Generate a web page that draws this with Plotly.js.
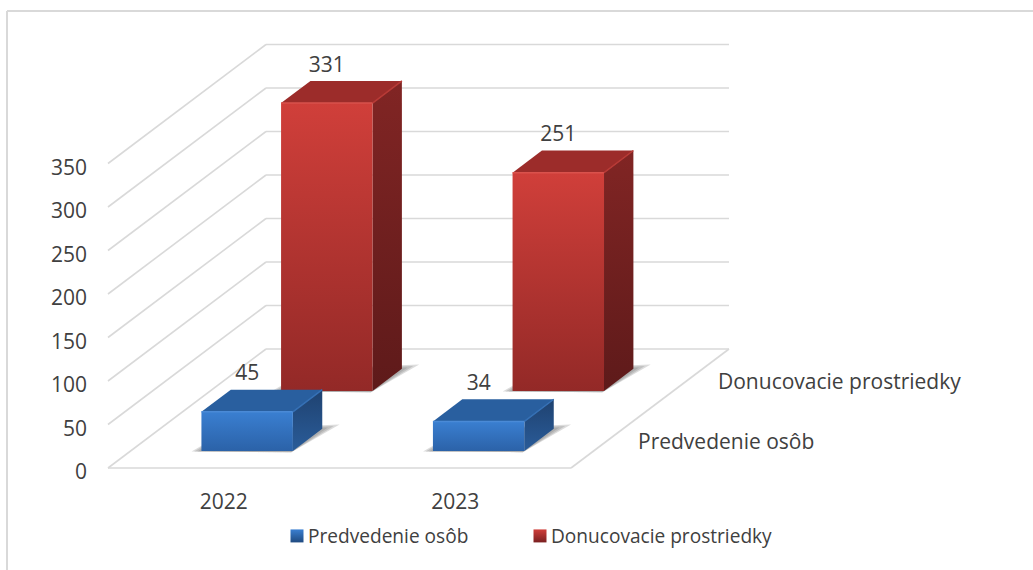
<!DOCTYPE html>
<html><head><meta charset="utf-8">
<script src="https://cdn.plot.ly/plotly-3.0.1.min.js"></script>
<style>html,body{margin:0;padding:0;background:#fff}#c{width:1033px;height:570px}</style>
</head><body><div id="c"></div>
<script>
const categories = ['2022', '2023'];
const seriesNames = ['Predvedenie osôb', 'Donucovacie prostriedky'];
const predvedenie = [45, 34];
const donucovacie = [331, 251];
const valueTicks = [0, 50, 100, 150, 200, 250, 300, 350];

const W = 1033, H = 570, ML = 97, MB = 83;
const FONT = '"Open Sans", sans-serif', TXT = '#404040', GRID = '#d9d9d9', FS = 21;
const pxPerCat = 231.5, pxPerVal = 0.87, originX = 108, originY = 468;
const depthX = 158 / pxPerCat, depthY = 119 / pxPerVal;
const P = (c, d, v) => [c + d * depthX, v + d * depthY];
const poly = pts => { const q = pts.map(p => P(p[0], p[1], p[2])); return {x: q.map(a => a[0]).concat(q[0][0]), y: q.map(a => a[1]).concat(q[0][1])}; };

const traces = [];
const face = (pts, grad, flat) => {
  const g = poly(pts);
  const t = {type: 'scatter', mode: 'lines', x: g.x, y: g.y, fill: 'toself', line: {width: 0}, hoverinfo: 'skip', showlegend: false};
  if (grad) t.fillgradient = grad; else t.fillcolor = flat;
  traces.push(t);
};
const edge = (a, b, color) => {
  const p = P(...a), q = P(...b);
  traces.push({type: 'scatter', mode: 'lines', x: [p[0], q[0]], y: [p[1], q[1]], line: {color, width: 1.5}, hoverinfo: 'skip', showlegend: false});
};
const seg = (a, b) => {
  const p = P(...a), q = P(...b);
  return [[p[0], q[0], null], [p[1], q[1], null]];
};

// wall grid + floor
let gx = [], gy = [];
valueTicks.forEach(v => {
  [[[0, 0, v], [0, 1, v]], [[0, 1, v], [2, 1, v]]].forEach(s => {
    const r = seg(s[0], s[1]); gx = gx.concat(r[0]); gy = gy.concat(r[1]);
  });
});
[[[0, 0, 0], [2, 0, 0]], [[2, 0, 0], [2, 1, 0]]].forEach(s => {
  const r = seg(s[0], s[1]); gx = gx.concat(r[0]); gy = gy.concat(r[1]);
});
traces.push({type: 'scatter', mode: 'lines', x: gx, y: gy, line: {color: GRID, width: 1.6}, hoverinfo: 'skip', showlegend: false, connectgaps: false});

const barStart = 0.306, barWidth = 0.395;
const depthStart = [0.143, 0.647], barDepth = 0.186;
const styles = [
  {front: [[0, '#2b62a8'], [1, '#3a7fd1']], side: [[0, '#2a5c99'], [1, '#1f4270']], top: '#295f9f', glow: '#4a8ad6', glow2: '#3570b5', leg: '#3a7fd1', legB: '#1f4a80'},
  {front: [[0, '#932927'], [1, '#d03f3a']], side: [[0, '#5e1a1a'], [1, '#812524']], top: '#9c2c2a', glow: '#d9524c', glow2: '#b83a36', leg: '#d03f3a', legB: '#7a2020'}
];

function bar(cat, s, val) {
  const c0 = cat + barStart, c1 = c0 + barWidth, d0 = depthStart[s], d1 = d0 + barDepth, st = styles[s];
  // soft shadow on the floor
  [[0.05, 0.06, 0.04], [0.033, 0.04, 0.028], [0.016, 0.02, 0.014]].forEach(o => {
    const g = poly([[c0 - o[2], d0 - 0.004, 0], [c1, d0 - 0.01, 0], [c1 + o[0], d1 + o[1] * 0.6, 0], [c0, d1, 0]]);
    traces.push({type: 'scatter', mode: 'lines', x: g.x, y: g.y, fill: 'toself', fillcolor: 'rgba(110,110,110,0.24)', line: {width: 0}, hoverinfo: 'skip', showlegend: false});
  });
  face([[c1, d0, 0], [c1, d1, 0], [c1, d1, val], [c1, d0, val]], {type: 'vertical', colorscale: st.side});
  face([[c0, d0, val], [c1, d0, val], [c1, d1, val], [c0, d1, val]], null, st.top);
  face([[c0, d0, 0], [c1, d0, 0], [c1, d0, val], [c0, d0, val]], {type: 'vertical', colorscale: st.front});
  edge([c0, d0, val], [c1, d0, val], st.glow);
  edge([c1, d0, val], [c1, d1, val], st.glow2);
}
[1, 0].forEach(s => {
  categories.forEach((_, i) => bar(i, s, (s ? donucovacie : predvedenie)[i]));
});

// value labels
const labelLift = 4 / pxPerVal;
[predvedenie, donucovacie].forEach((vals, s) => {
  const pts = vals.map((v, i) => P(i + barStart + barWidth / 2, depthStart[s] + barDepth, v));
  traces.push({type: 'scatter', mode: 'text',
    x: pts.map(p => p[0] - barDepth * depthX), y: pts.map(p => p[1] + labelLift),
    text: vals.map(String), textposition: 'top center',
    textfont: {family: FONT, size: FS, color: TXT}, hoverinfo: 'skip', showlegend: false, cliponaxis: false});
});

// legend entries
const legendWidths = [198, 240];
seriesNames.forEach((n, s) => traces.push({type: 'scatter', mode: 'markers', x: [null], y: [null], name: n, legendwidth: legendWidths[s],
  marker: {symbol: 'square', size: 13, color: styles[s].leg, gradient: {type: 'vertical', color: styles[s].legB}}}));

const annotations = seriesNames.map((n, s) => {
  const p = P(2, depthStart[s] + barDepth / 2, 0);
  return {x: p[0], y: p[1], xref: 'x', yref: 'y', text: n, showarrow: false, xanchor: 'left', xshift: 28, yshift: -1,
    font: {family: FONT, size: FS, color: TXT}};
});

const pw = W - ML, ph = H - MB;
const layout = {
  width: W, height: H, margin: {l: ML, r: 0, t: 0, b: MB, pad: 0},
  paper_bgcolor: '#fff', plot_bgcolor: 'rgba(0,0,0,0)',
  font: {family: FONT, color: TXT, size: FS},
  xaxis: {range: [(ML - originX) / pxPerCat, (W - originX) / pxPerCat], tickvals: [0.5, 1.5], ticktext: categories,
    showgrid: false, zeroline: false, showline: false, ticks: '', tickfont: {family: FONT, size: FS, color: TXT}, fixedrange: true},
  yaxis: {range: [(originY - ph) / pxPerVal, originY / pxPerVal], tickvals: valueTicks, ticktext: valueTicks.map(String),
    showgrid: false, zeroline: false, showline: false, ticks: '', tickfont: {family: FONT, size: FS, color: TXT}, ticklabelstandoff: 9, ticklabelshift: 4, fixedrange: true},
  showlegend: true,
  legend: {orientation: 'h', x: 268 / W, xref: 'container', xanchor: 'left', y: 1 - 517 / H, yref: 'container', yanchor: 'top',
    font: {family: FONT, size: 19.1, color: TXT}, itemclick: false, itemdoubleclick: false},
  annotations,
  shapes: [
    {type: 'line', xref: 'paper', yref: 'paper', x0: (7 - ML) / pw, x1: (7 - ML) / pw, y0: 1 - 11 / ph, y1: 1 - H / ph, line: {color: GRID, width: 2}},
    {type: 'line', xref: 'paper', yref: 'paper', x0: (7 - ML) / pw, x1: 1, y0: 1 - 11 / ph, y1: 1 - 11 / ph, line: {color: GRID, width: 2}}
  ]
};
Plotly.newPlot('c', traces, layout, {displayModeBar: false, staticPlot: true}).then(() => {
  // the reference keeps each legend key tight against its text
  document.querySelectorAll('#c .legend .legendsymbols').forEach(g => g.setAttribute('transform', 'translate(9,0)'));
});
</script></body></html>
